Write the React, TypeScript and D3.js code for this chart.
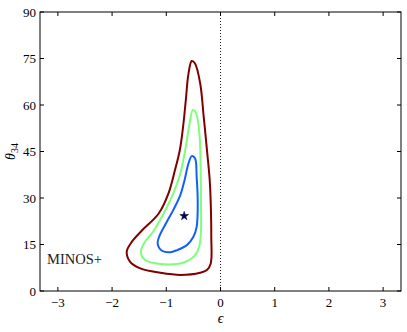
import * as d3 from "d3";
import { useEffect, useRef } from "react";

// contour levels (x = epsilon, y = theta34 in degrees)
const outerX = [-0.53, -0.47, -0.375, -0.31, -0.25, -0.2, -0.18, -0.17, -0.18, -0.25, -0.375, -0.74, -1.11, -1.48, -1.67, -1.73, -1.63, -1.45, -1.14, -0.96, -0.84, -0.75, -0.69, -0.64, -0.59];
const outerY = [74.2, 73.4, 67, 56.2, 45.5, 36, 28.3, 17.5, 8.9, 6.8, 5.9, 5.2, 5.9, 7.3, 9.5, 12.7, 16, 19.5, 25, 31.5, 39, 45.5, 53, 61.6, 70.2];

const midX = [-0.51, -0.45, -0.39, -0.37, -0.36, -0.36, -0.39, -0.47, -0.62, -0.74, -1.11, -1.39, -1.47, -1.4, -1.24, -1.05, -0.87, -0.74, -0.65, -0.58];
const midY = [58.4, 57.3, 50.9, 43, 28.3, 19.7, 14.5, 11.5, 9.6, 8.9, 8.7, 10, 12.7, 15.7, 19.2, 25, 31.5, 38, 45.5, 53];

const innerX = [-0.53, -0.47, -0.44, -0.42, -0.44, -0.5, -0.62, -0.8, -0.93, -1.08, -1.16, -1.12, -1.0, -0.86, -0.74, -0.66, -0.59];
const innerY = [43.5, 42.8, 36.9, 28.3, 20.7, 17.5, 14.8, 13.2, 12.5, 13, 15.4, 18, 22, 26.5, 31, 36, 41.2];

const bestFit = [-0.67, 24.2];
const xTicks = [-3, -2, -1, 0, 1, 2, 3];
const yTicks = [0, 15, 30, 45, 60, 75, 90];

const App = () => {
  const svgRef = useRef<SVGSVGElement>(null);

  useEffect(() => {
    const svg = d3.select(svgRef.current);
    svg.selectAll("*").remove();

    const width = 407;
    const height = 332;
    const margin = { top: 12, right: 6, bottom: 41, left: 40 };
    const font = "'Liberation Serif', 'DejaVu Serif', serif";

    const x = d3.scaleLinear().domain([-3.33, 3.33]).range([margin.left, width - margin.right]);
    const y = d3.scaleLinear().domain([0, 90]).range([height - margin.bottom, margin.top]);

    const line = d3
      .line<[number, number]>()
      .x((d) => x(d[0]))
      .y((d) => y(d[1]))
      .curve(d3.curveCatmullRomClosed.alpha(0.5));

    // dotted line at epsilon = 0
    svg
      .append("line")
      .attr("x1", x(0))
      .attr("x2", x(0))
      .attr("y1", y(90))
      .attr("y2", y(0))
      .attr("stroke", "#222")
      .attr("stroke-width", 1)
      .attr("stroke-dasharray", "1,2");

    const contours = [
      { xs: outerX, ys: outerY, color: "#800000" },
      { xs: midX, ys: midY, color: "#7dff7a" },
      { xs: innerX, ys: innerY, color: "#1060ff" },
    ];
    contours.forEach((c) => {
      const pts = c.xs.map((v, i) => [v, c.ys[i]] as [number, number]);
      svg
        .append("path")
        .attr("d", line(pts))
        .attr("fill", "none")
        .attr("stroke", c.color)
        .attr("stroke-width", 2);
    });

    // best fit star
    svg
      .append("path")
      .attr("d", d3.symbol(d3.symbolStar, 24)())
      .attr("transform", `translate(${x(bestFit[0])},${y(bestFit[1])})`)
      .attr("fill", "#00007f")
      .attr("stroke", "#000")
      .attr("stroke-width", 0.5);

    // frame
    svg
      .append("rect")
      .attr("x", x(-3.33))
      .attr("y", y(90))
      .attr("width", x(3.33) - x(-3.33))
      .attr("height", y(0) - y(90))
      .attr("fill", "none")
      .attr("stroke", "#000")
      .attr("stroke-width", 1);

    // ticks, inward on all four sides
    const tick = 4;
    xTicks.forEach((t) => {
      svg.append("line").attr("x1", x(t)).attr("x2", x(t)).attr("y1", y(0)).attr("y2", y(0) - tick).attr("stroke", "#000");
      svg.append("line").attr("x1", x(t)).attr("x2", x(t)).attr("y1", y(90)).attr("y2", y(90) + tick).attr("stroke", "#000");
      svg
        .append("text")
        .attr("x", x(t))
        .attr("y", y(0) + 16)
        .attr("text-anchor", "middle")
        .attr("font-family", font)
        .attr("font-size", "13px")
        .text(t < 0 ? `\u2212${-t}` : `${t}`);
    });
    yTicks.forEach((t) => {
      svg.append("line").attr("x1", x(-3.33)).attr("x2", x(-3.33) + tick).attr("y1", y(t)).attr("y2", y(t)).attr("stroke", "#000");
      svg.append("line").attr("x1", x(3.33)).attr("x2", x(3.33) - tick).attr("y1", y(t)).attr("y2", y(t)).attr("stroke", "#000");
      svg
        .append("text")
        .attr("x", x(-3.33) - 4)
        .attr("y", y(t) + 4.5)
        .attr("text-anchor", "end")
        .attr("font-family", font)
        .attr("font-size", "13px")
        .text(t);
    });

    // axis labels
    svg
      .append("text")
      .attr("x", x(0))
      .attr("y", 323)
      .attr("text-anchor", "middle")
      .attr("font-family", font)
      .attr("font-style", "italic")
      .attr("font-size", "14px")
      .text("\u03f5");

    const yl = svg
      .append("text")
      .attr("transform", `translate(15, ${(y(0) + y(90)) / 2}) rotate(-90)`)
      .attr("text-anchor", "middle")
      .attr("font-family", font)
      .attr("font-size", "14px");
    yl.append("tspan").attr("font-style", "italic").text("\u03b8");
    yl.append("tspan").attr("font-size", "10px").attr("dy", 3).text("34");

    // experiment label
    svg
      .append("text")
      .attr("x", 47)
      .attr("y", 264)
      .attr("font-family", font)
      .attr("font-size", "14.5px")
      .attr("fill", "#222")
      .text("MINOS+");
  }, []);

  return (
    <div style={{ position: "absolute", left: 0, top: 0 }}>
      <svg ref={svgRef} width={407} height={332}></svg>
    </div>
  );
};

export default App;
